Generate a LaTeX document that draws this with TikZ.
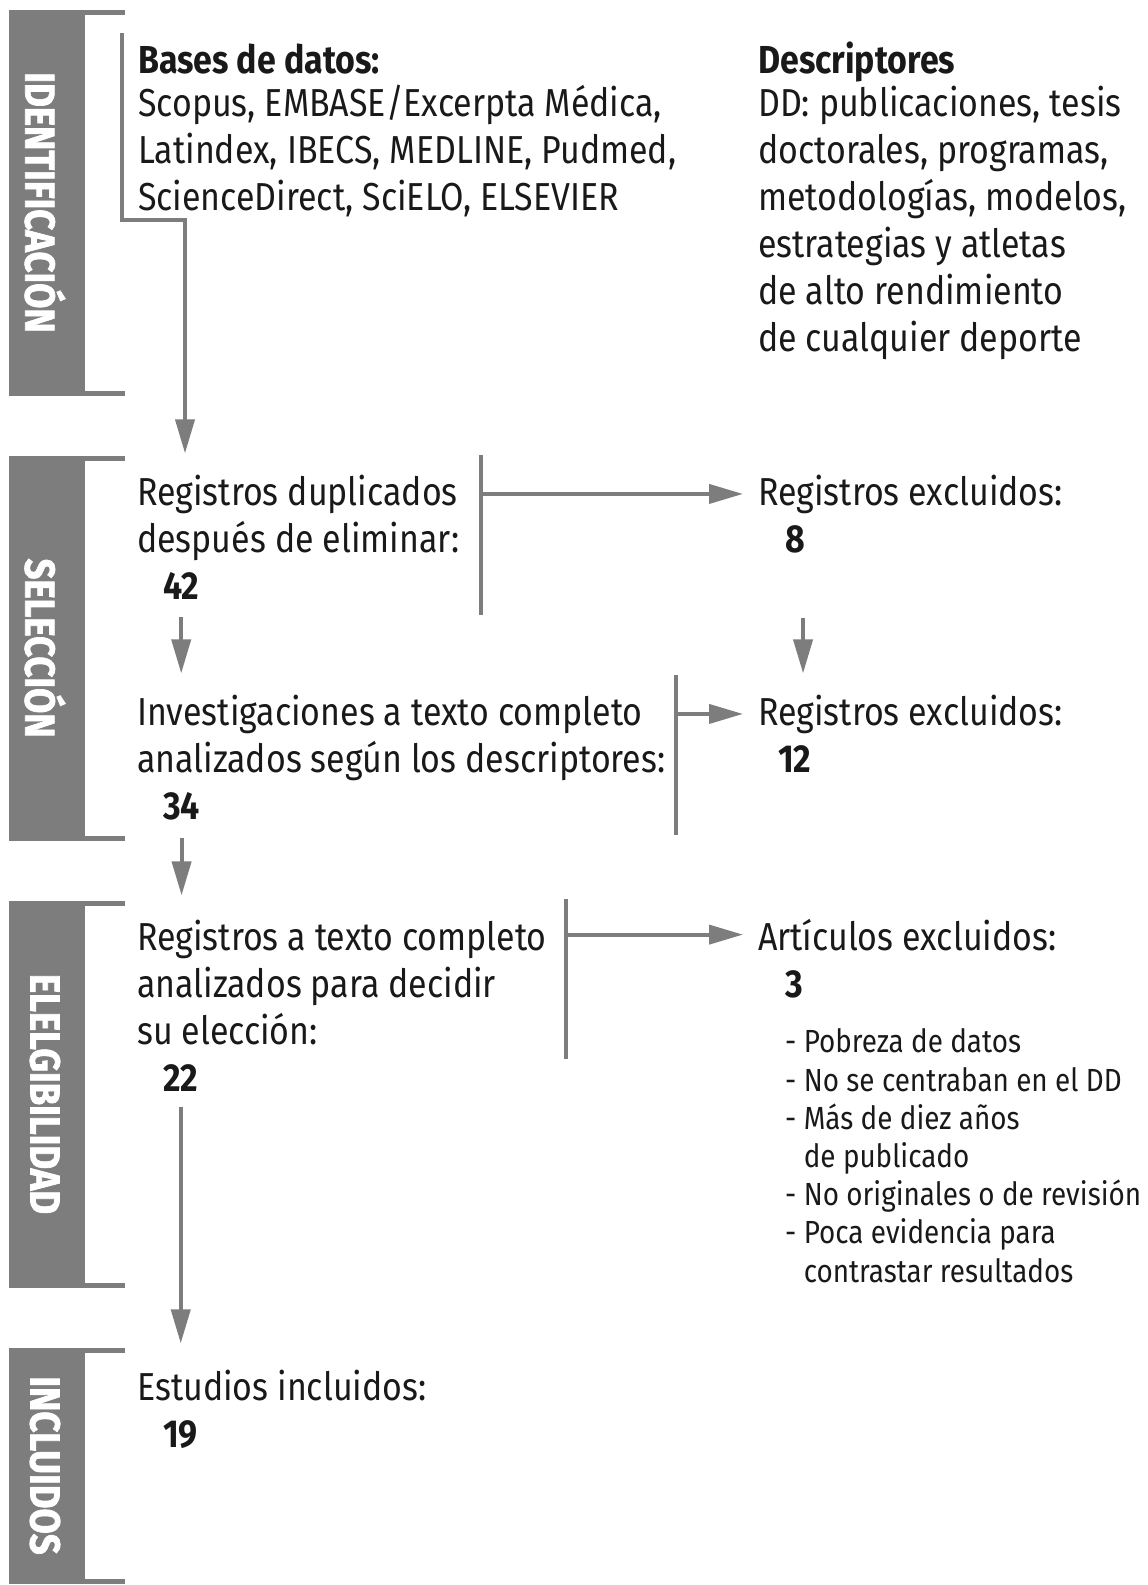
\documentclass[tikz,border=0pt]{standalone}
\usepackage{fontspec}
\setmainfont[FakeStretch=0.87]{Fira Sans}
\newfontfamily\fasefont[FakeStretch=0.87,BoldFeatures={FakeBold=1.6}]{Fira Sans}
\usetikzlibrary{arrows.meta}
\definecolor{barra}{RGB}{125,125,125}
\definecolor{tinta}{RGB}{25,25,25}
\tikzset{
  txt/.style={anchor=base west, inner sep=0pt, align=left, text=tinta,
    font=\fontsize{39}{47}\selectfont},
  tit/.style={txt, font=\fontsize{39}{47}\selectfont\bfseries},
  num/.style={anchor=base west, inner sep=0pt, text=tinta,
    font=\fontsize{39}{47}\selectfont\bfseries},
  lista/.style={anchor=base west, inner sep=0pt, align=left, text=tinta,
    font=\fontsize{32}{38.2}\selectfont},
  fase/.style={rotate=-90, inner sep=0pt, text=white,
    font=\fasefont\fontsize{42}{44}\selectfont\bfseries},
  linea/.style={draw=barra, line width=4pt},
  flecha/.style={linea, -{Triangle[length=34pt,width=19pt]}},
}

\begin{document}
\begin{tikzpicture}[x=1pt,y=-1pt]
	\useasboundingbox (0,0) rectangle (1148,1585);
	% fases
	\foreach \arriba/\abajo/\nombre/\etiq in {12/393/ident/IDENTIFICACIÓN, 458/838/sel/SELECCIÓN, 903/1285/eleg/ELELGIBILIDAD, 1350/1581/incl/INCLUIDOS}{
		\fill[barra] (9,\arriba-2.5) rectangle (85,\abajo+2.5);
		\draw[line width=5pt, draw=barra] (9,\arriba) -- (125,\arriba) (9,\abajo) -- (125,\abajo);
		\node[fase] (\nombre) at (45,{(\arriba+\abajo)/2}) {\etiq};
	}
	% identificacion (base = ultima linea)
	\node[tit] (tbases) at (138,73) {Bases de datos:};
	\node[txt] (bases) at (138,210) {Scopus, EMBASE/Excerpta Médica,\\Latindex, IBECS, MEDLINE, Pudmed,\\ScienceDirect, SciELO, ELSEVIER};
	\node[tit] (tdesc) at (758,73) {Descriptores};
	\node[txt] (desc) at (758,351) {DD: publicaciones, tesis\\doctorales, programas,\\metodologías, modelos,\\estrategias y atletas\\de alto rendimiento\\de cualquier deporte};
	% seleccion
	\node[txt] (dup) at (137,552) {Registros duplicados\\después de eliminar:};
	\node[num] (n42) at (163,599) {42};
	\node[txt] (exc1) at (758,505) {Registros excluidos:};
	\node[num] (n8) at (785,552) {8};
	\node[txt] (inv) at (137,772) {Investigaciones a texto completo\\analizados según los descriptores:};
	\node[num] (n34) at (163,819) {34};
	\node[txt] (exc2) at (758,725) {Registros excluidos:};
	\node[num] (n12) at (778,772) {12};
	% elegibilidad
	\node[txt] (reg) at (137,1044) {Registros a texto completo\\analizados para decidir\\su elección:};
	\node[num] (n22) at (163,1091) {22};
	\node[txt] (art) at (758,950) {Artículos excluidos:};
	\node[num] (n3) at (785,997) {3};
	\node[lista] (motivos) at (785,1282) {- Pobreza de datos\\- No se centraban en el DD\\- Más de diez años\\\phantom{- }de publicado\\- No originales o de revisión\\- Poca evidencia para\\\phantom{- }contrastar resultados};
	% incluidos
	\node[txt] (est) at (137,1400) {Estudios incluidos:};
	\node[num] (n19) at (163,1447) {19};

	% corchetes
	\coordinate (b1) at (122,33);
	\coordinate (b2) at (122,220);
	\coordinate (b3) at (185,220);
	\coordinate (s1) at (481,455);
	\coordinate (s2) at (481,615);
	\coordinate (t1) at (676,675);
	\coordinate (t2) at (676,835);
	\coordinate (e1) at (566,899);
	\coordinate (e2) at (566,1059);
	\draw[linea] (s1) -- (s2) (t1) -- (t2) (e1) -- (e2);

	% flechas
	\draw[flecha, shorten >=21pt] (b1) -- (b2) -- (b3) -- (b3 |- dup.north);
	\draw[flecha, shorten >=15pt] (s1 |- exc1.west) -- (exc1.west);
	\draw[flecha, shorten >=15pt] (t1 |- exc2.west) -- (exc2.west);
	\draw[flecha, shorten >=15pt] (e1 |- art.west) -- (art.west);
	\draw[flecha, shorten <=18pt, shorten >=21pt] (n42.south) -- (n42.south |- inv.north);
	\draw[flecha, shorten <=65pt, shorten >=21pt] ([xshift=8pt]n8.south) -- ([xshift=8pt]n8.south |- exc2.north);
	\draw[flecha, shorten <=18pt, shorten >=24pt] (n34.south) -- (n34.south |- reg.north);
	\draw[flecha, shorten <=16pt, shorten >=26pt] (n22.south) -- (n22.south |- est.north);
\end{tikzpicture}
\end{document}
